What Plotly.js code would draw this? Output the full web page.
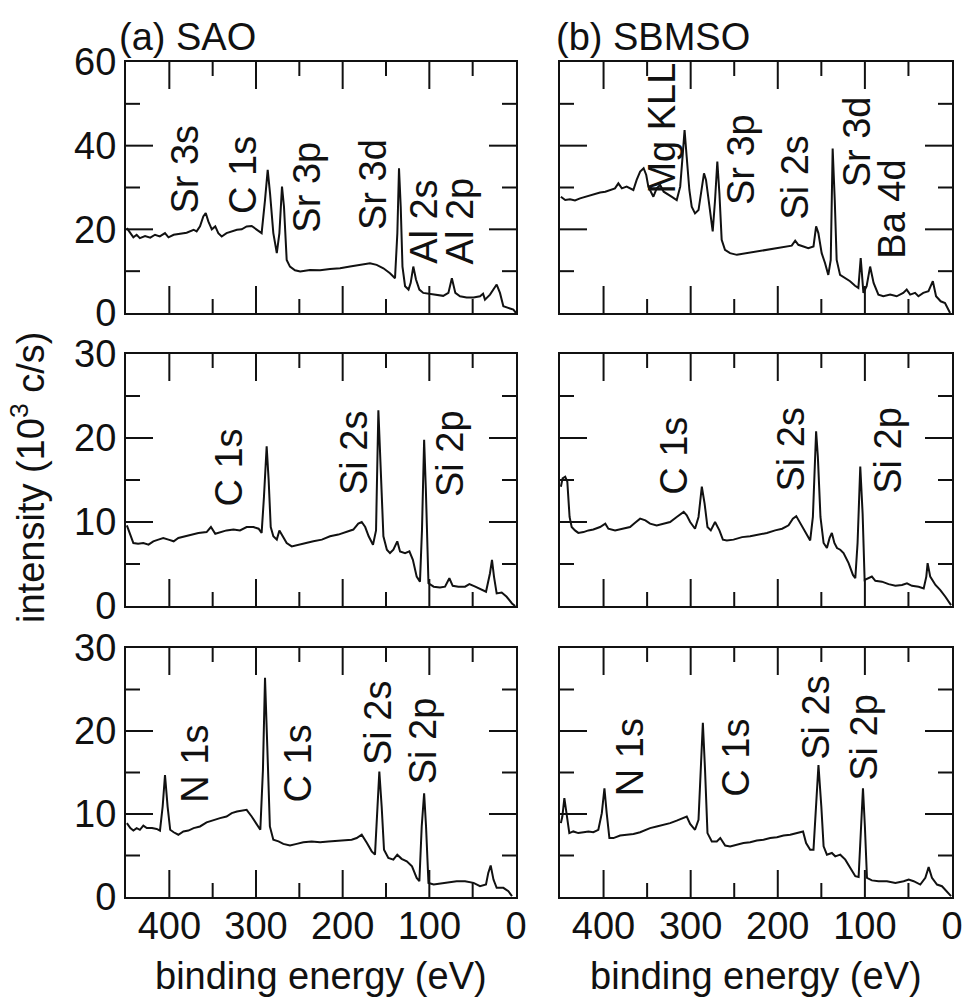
<!DOCTYPE html>
<html>
<head>
<meta charset="utf-8">
<script src="https://cdn.plot.ly/plotly-3.0.1.min.js"></script>
<style>html,body{margin:0;padding:0;background:#fff;}#chart{width:966px;height:998px;}</style>
</head>
<body>
<div id="chart"></div>
<script>
// ---------- DATA (binding energy in eV, intensity in 10^3 c/s) ----------
// (a) SAO, top panel
const saoTopE = [449,445,441.5,437.7,434,428,422,416.5,411,405,401,395,387.7,380,372,368.5,364.6,360.8,358,355,351,347,343.5,339.6,334,328,322,316.5,310.8,305,299,293.5,289.6,286.5,283.8,280,276,273,270,267.7,264.6,260.8,255,249,237.7,226,214.6,203,191.5,180,168.5,160.8,153,145.4,139.6,136.9,135,133,131,128,124,121.5,118.5,115.4,111.5,107,99,91.5,84,78,74,70,64.6,57,49,41.5,38,35.8,30,22.3,18.5,14.6,8.8,3,0];
const saoTopI = [20.3,19.1,18.1,18.7,17.9,18.4,18.0,18.7,18.3,19.1,18.1,18.7,18.9,19.2,19.9,19.5,20.7,23.1,23.9,21.9,20.0,20.7,19.1,18.3,19.1,19.5,19.9,20.0,20.7,20.8,19.9,19.1,27.0,34.2,28.6,19.1,14.3,19.1,30.2,25.4,12.7,11.1,10.2,9.9,10.3,10.2,10.5,10.7,11.1,11.5,11.9,11.5,10.7,9.5,8.3,19.1,34.6,25.4,11.1,6.4,5.6,7.2,11.1,8.0,5.6,4.8,4.6,4.4,4.1,4.8,8.3,4.8,4.0,3.7,3.7,4.0,4.6,3.2,4.4,6.8,4.8,1.6,1.2,0.8,0.0];
// (b) SBMSO, top panel
const sbmsoTopE = [449,444,438.5,432.8,427,421,415.6,409.8,404,398,392.6,386.9,383,379,373.5,365.8,362,358,354,351,348.6,345.5,342.8,339,335,331,327.5,322,316,312,309,307,304.6,301.5,298.8,295,291,287.4,284.7,282.4,279.7,277,274.7,272,269.4,267,264.4,260.6,254.8,247,235.7,224,212.7,201,189.8,184,180,176.4,170.6,165,159,156,153.4,149.6,145.7,142,139.2,137,134.6,132.4,128.5,122.8,117,111.3,107.5,104.8,101.7,98,94,90,84.5,78.8,71,63.5,56,52,48,42.4,38.6,33,27,22,18.3,13,8,2.2];
const sbmsoTopI = [27.8,27.0,27.2,26.9,27.4,27.8,28.2,28.6,28.8,29.0,29.4,29.8,31.0,29.8,30.2,29.4,31.8,33.8,34.6,33.0,30.2,29.0,27.8,29.8,30.6,29.0,28.6,27.8,27.0,30.2,38.2,43.7,37.4,29.4,25.4,23.8,24.6,30.2,33.4,31.8,27.0,22.3,19.5,27.0,36.2,28.6,17.5,15.1,14.3,13.9,14.3,14.7,15.1,15.5,15.9,16.1,17.3,16.3,15.9,15.5,15.9,20.7,19.1,14.3,11.9,9.1,12.7,39.3,27.0,12.7,9.1,8.3,7.6,6.5,6.0,13.1,4.8,6.4,11.1,7.2,4.4,4.0,4.4,4.0,4.8,5.6,4.4,4.8,4.0,4.8,5.2,7.6,4.0,2.8,2.4,0.0];
// (a) SAO, middle panel
const saoMidE = [449,445,441.5,436,430,424,418.5,412.7,407,401,395,389.6,382,374,366.5,357,352,347,341.5,334,326,318.5,310.8,303,297,293.5,290.8,287.7,285.4,283,280,276,273,269,264.6,258.8,251,243.5,233.8,224,214.6,205,195,187.7,182,178,174,170,165,161.5,158.8,156,153,149,145.4,141.5,137,133.8,128,123,119,114.6,110.8,108.5,106,104,101,95,87.7,81.9,76.9,73,66.5,58.8,53.8,47,39.6,34.6,30,27.7,25.4,22.3,16.5,10.8,4.6,1];
const saoMidI = [9.6,8.5,7.5,7.4,7.5,7.3,7.7,7.9,8.1,7.9,7.7,8.1,8.3,8.5,8.7,8.8,9.4,8.6,8.8,9.0,9.1,9.0,9.4,9.4,9.2,8.7,13.0,19.0,15.0,9.4,8.3,7.9,9.0,8.3,7.5,7.1,7.3,7.5,7.7,7.9,8.3,8.5,8.8,9.1,9.8,10.0,9.4,8.3,7.3,9.0,23.3,15.0,8.3,6.7,6.3,6.7,7.7,6.5,6.3,6.5,5.5,3.5,2.9,9.0,19.8,13.8,2.7,2.3,2.2,2.3,3.3,2.4,2.3,2.3,2.6,2.3,1.9,1.7,3.9,5.5,3.5,1.5,1.6,1.1,0.3,0.0];
// (b) SBMSO, middle panel
const sbmsoMidE = [449,447,444,441.6,439,436.6,432.8,429,423,417.4,411.7,404,398,394.5,386.8,379,369.6,363.8,358,352,346.6,339,331.3,323.6,316,308,304.5,300.6,295,291,287.2,284,280.7,276.9,272,267,263,258.5,250.8,241,231.7,222,212.5,203,195,187.6,182.7,178.8,174,168.5,162.8,159.7,157.4,156,154,151,147.4,143.6,140.5,137.9,135,132,128.3,124.5,118.7,113.7,111,108.4,105.3,102.6,100.3,95.7,92,88,80.4,72.8,65,57.4,51.7,46,38.3,32.5,29.5,28,25,19,13.4,7.6,1.1];
const sbmsoMidI = [14.2,15.2,15.4,14.8,10.6,9.4,9.0,8.7,8.8,9.0,9.1,9.4,9.8,9.2,9.0,9.2,9.4,9.9,10.4,10.2,9.8,9.6,9.8,10.0,10.6,11.2,10.8,10.0,9.2,10.6,14.2,12.2,9.4,9.0,10.0,9.0,7.9,7.8,7.9,8.2,8.3,8.5,8.7,9.0,9.2,9.6,10.4,10.7,9.8,8.7,7.8,10.6,17.0,20.8,17.8,10.6,7.5,6.9,8.1,8.7,7.5,6.9,6.7,6.3,5.1,3.7,3.3,7.5,16.6,11.0,3.1,3.3,3.5,3.0,2.9,2.6,2.4,2.5,2.7,2.4,2.3,2.1,3.5,5.1,3.5,2.5,1.9,1.1,0.1];
// (a) SAO, bottom panel
const saoBotE = [449,445,441.5,437.7,434,430,426,420,414.6,410.8,407.7,405,402,399,395,389.6,383.8,378,372,364.6,357,349,341.5,334,328,322,316.5,310.8,305,299,295,292,289.6,287,284,280,274,268.5,260.8,253,245.4,235.8,226,216.5,207,197,189.6,183.8,178,172,166.5,162.7,160,157.7,155,152.3,147.3,141.5,137,132,126,120,114.6,111.5,108.8,106,103.8,101,95,87.7,78,68.5,58.8,49,41.5,34.6,32,29.2,26,22.3,14.6,8.8,4.6];
const saoBotI = [8.9,8.3,8.0,8.3,8.1,8.6,8.3,8.3,8.2,8.0,10.9,14.7,10.9,8.1,7.8,7.5,7.9,8.0,8.3,8.5,9.0,9.3,9.5,9.7,10.1,10.3,10.4,10.5,9.7,8.7,8.1,15.3,26.4,18.2,8.5,6.9,6.7,6.4,6.2,6.4,6.6,6.7,6.6,6.7,6.8,6.9,6.9,7.1,7.5,6.5,5.5,5.1,10.9,15.1,10.9,5.7,4.7,4.5,5.1,4.6,4.3,3.7,2.3,1.9,8.5,12.5,8.5,1.7,1.5,1.6,1.8,1.9,1.9,1.7,1.3,1.5,2.9,3.8,2.1,1.1,1.1,0.7,0.1];
// (b) SBMSO, bottom panel
const sbmsoBotE = [449,447.3,445,442.3,439.3,434.7,429,423,417.4,411.7,406,402,399,396.4,393.3,388.7,381,373.4,365.7,358,352.3,346.6,339,331.3,323.6,316,308,304.5,300.6,295,291,288.4,286,283.5,280.7,275.7,270,266,260.4,254.7,247,239.4,231.7,224,216.4,208.7,201,193.4,185.7,178,171,167.5,162.8,159,156.4,153.3,150,147.4,143.6,137.9,134,128.3,122.5,116.8,111,107.2,104.5,102.2,100,97.6,92,84.3,74.7,65,55.5,49.7,44,36.4,30.6,26.8,23,17.2,11.5,5.7,1.1];
const sbmsoBotI = [8.9,9.7,11.9,9.7,7.7,7.9,7.7,7.8,7.9,7.8,8.1,10.1,13.1,10.1,7.1,7.1,7.4,7.5,7.6,7.8,8.1,8.3,8.5,8.7,8.9,9.2,9.5,9.7,8.8,8.1,9.3,15.3,21.0,15.3,7.7,6.7,6.7,7.1,6.2,6.1,6.3,6.5,6.6,6.8,6.9,7.1,7.2,7.4,7.5,7.7,7.9,6.5,5.7,5.7,10.9,15.9,10.9,6.1,5.1,5.3,4.9,5.1,4.5,3.5,2.5,2.4,8.5,13.1,8.5,2.3,2.0,1.9,1.9,1.7,1.9,2.1,1.9,1.5,2.3,3.6,2.3,1.5,1.3,0.7,0.1];

// Tick positions (major = long, minor = short)
const xMajorTicks = [400, 300, 200, 100];
const xMinorTicks = [350, 250, 150, 50];
const yTopMajor = [20, 40];
const yTopMinor = [10, 30, 50];
const yLowMajor = [10, 20];
const yLowMinor = [5, 15, 25];

// Panel headings, axis titles and peak labels
const panelTitles = ['(a) SAO', '(b) SBMSO'];
const xTitle = 'binding energy (eV)';
const yTitle = 'intensity (10<sup>3</sup> c/s)';
// peak labels: text, panel index (1..6), energy, intensity
const peakText   = ['Sr 3s','C 1s','Sr 3p','Sr 3d','Al 2s','Al 2p',
                    'Mg KLL','Sr 3p','Si 2s','Sr 3d','Ba 4d',
                    'C 1s','Si 2s','Si 2p',
                    'C 1s','Si 2s','Si 2p',
                    'N 1s','C 1s','Si 2s','Si 2p',
                    'N 1s','C 1s','Si 2s','Si 2p'];
const peakPanel  = [1,1,1,1,1,1, 2,2,2,2,2, 3,3,3, 4,4,4, 5,5,5,5, 6,6,6,6];
const peakE      = [383,315,241,165,105.6,64.6, 333,242,180,109,69, 331,187,76, 319,185,73.5, 370,251.5,160,107, 370,249,156,102];
const peakI      = [34.3,33,30,30.6,21.9,21.9, 44.3,36.6,32.4,40.8,24.9, 16.5,18.2,18.1, 17.9,18.6,18.6, 16.1,16.1,21,18.8, 16.8,16.8,21.6,19.2];

// ---------- LAYOUT ----------
const FONT = 'Liberation Sans';
const INK = '#111';
const W = 966, H = 998;
const X_MAX = 450;
const MAJOR_LEN = 27, MINOR_LEN = 14;   // tick lengths in px
const colDom = [[126/W, 516/W], [560/W, 952/W]];
const rowDom = [[1-313/H, 1-62/H], [1-606/H, 1-354/H], [1-897/H, 1-648/H]];
const sfx = n => (n === 1 ? '' : String(n));
const txtFont = () => ({family: FONT, size: 38, color: INK});

const series = [
  [saoTopE, saoTopI], [sbmsoTopE, sbmsoTopI],
  [saoMidE, saoMidI], [sbmsoMidE, sbmsoMidI],
  [saoBotE, saoBotI], [sbmsoBotE, sbmsoBotI]
];

const layout = {
  width: W, height: H,
  margin: {l: 0, r: 0, t: 0, b: 0},
  plot_bgcolor: 'rgba(0,0,0,0)',
  showlegend: false,
  annotations: []
};
const traces = [];

// inward tick marks on all four sides, drawn through the panel's own axes;
// pixel lengths are converted to axis units from the panel size
function tickTrace(idx, row, col, top, yMaj, yMin) {
  const hPx = (rowDom[row][1] - rowDom[row][0]) * H;
  const wPx = (colDom[col][1] - colDom[col][0]) * W;
  const xs = [], ys = [];
  [[xMajorTicks, MAJOR_LEN], [xMinorTicks, MINOR_LEN]].forEach(([vals, len]) => {
    const d = len * top / hPx;
    vals.forEach(v => {
      xs.push(v, v, null, v, v, null);
      ys.push(0, d, null, top, top - d, null);
    });
  });
  [[yMaj, MAJOR_LEN], [yMin, MINOR_LEN]].forEach(([vals, len]) => {
    const d = len * X_MAX / wPx;
    vals.forEach(v => {
      xs.push(X_MAX, X_MAX - d, null, 0, d, null);
      ys.push(v, v, null, v, v, null);
    });
  });
  return {type: 'scatter', mode: 'lines', x: xs, y: ys, connectgaps: false,
          xaxis: 'x' + sfx(idx), yaxis: 'y' + sfx(idx),
          line: {color: INK, width: 2}, cliponaxis: false};
}

series.forEach((s, i) => {
  const idx = i + 1;
  const row = Math.floor(i / 2), col = i % 2;
  const top = row === 0 ? 60 : 30;
  const dt = row === 0 ? 20 : 10;
  layout['xaxis' + sfx(idx)] = {
    domain: colDom[col], anchor: 'y' + sfx(idx),
    range: [X_MAX, 0], dtick: 100, ticks: '',
    showline: true, linewidth: 2, linecolor: INK, mirror: true,
    showgrid: false, zeroline: false,
    showticklabels: row === 2, ticklabelstandoff: -6,
    tickfont: txtFont()
  };
  layout['yaxis' + sfx(idx)] = {
    domain: rowDom[row], anchor: 'x' + sfx(idx),
    range: [0, top], dtick: dt, ticks: '',
    showline: true, linewidth: 2, linecolor: INK, mirror: true,
    showgrid: false, zeroline: false,
    showticklabels: col === 0,
    tickfont: txtFont()
  };
  traces.push({
    type: 'scatter', mode: 'lines', x: s[0], y: s[1],
    xaxis: 'x' + sfx(idx), yaxis: 'y' + sfx(idx),
    line: {color: INK, width: 2}
  });
  traces.push(row === 0
    ? tickTrace(idx, row, col, top, yTopMajor, yTopMinor)
    : tickTrace(idx, row, col, top, yLowMajor, yLowMinor));
});

// peak labels
peakText.forEach((t, k) => {
  const p = peakPanel[k];
  layout.annotations.push({
    text: t, xref: 'x' + sfx(p), yref: 'y' + sfx(p), x: peakE[k], y: peakI[k],
    textangle: -90, showarrow: false, xanchor: 'center', yanchor: 'middle',
    font: txtFont()
  });
});
// panel titles
layout.annotations.push({text: panelTitles[0], xref: 'paper', yref: 'paper', x: 117/W, y: 1 - 37/H,
  xanchor: 'left', yanchor: 'middle', showarrow: false, font: txtFont()});
layout.annotations.push({text: panelTitles[1], xref: 'paper', yref: 'paper', x: 554/W, y: 1 - 37/H,
  xanchor: 'left', yanchor: 'middle', showarrow: false, font: txtFont()});
// x titles
[321, 756].forEach(cx => {
  layout.annotations.push({text: xTitle, xref: 'paper', yref: 'paper', x: cx/W, y: 1 - 976/H,
    xanchor: 'center', yanchor: 'middle', showarrow: false, font: txtFont()});
});
// y title
layout.annotations.push({text: yTitle, xref: 'paper', yref: 'paper', x: 28/W, y: 1 - 478/H,
  textangle: -90, xanchor: 'center', yanchor: 'middle', showarrow: false, font: txtFont()});

Plotly.newPlot('chart', traces, layout, {staticPlot: true});
</script>
</body>
</html>
